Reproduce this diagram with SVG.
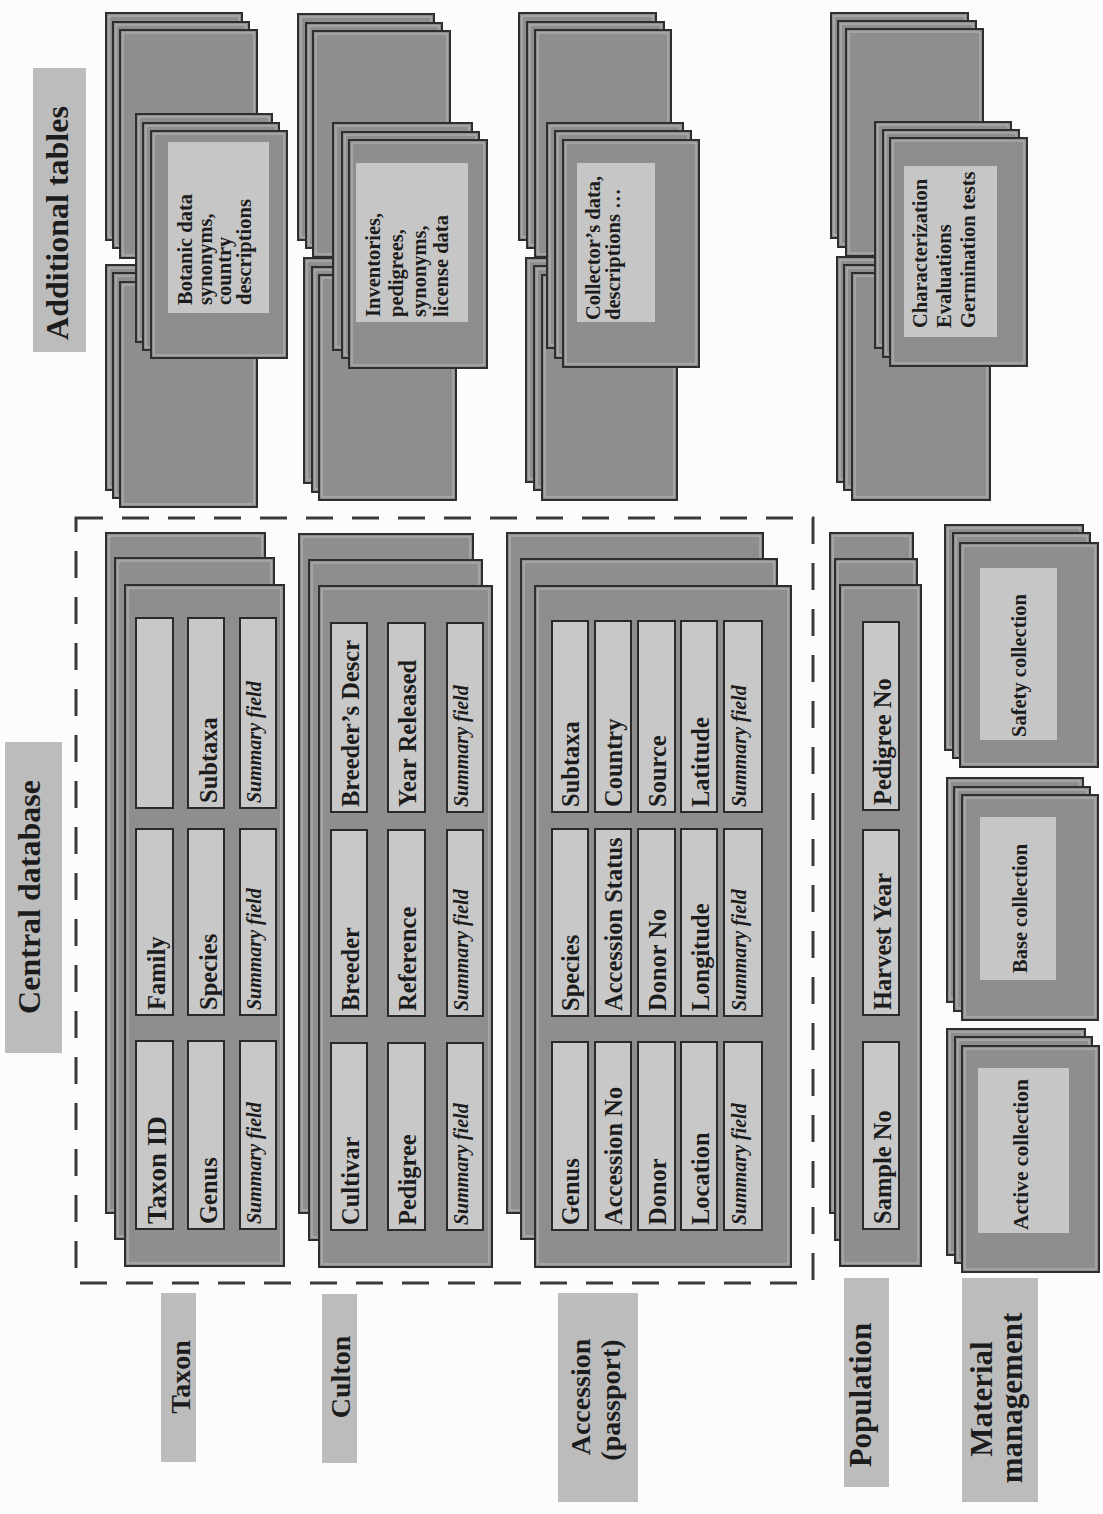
<svg xmlns="http://www.w3.org/2000/svg" width="1103" height="1514" viewBox="0 0 1103 1514">
<style>
.s{fill:#8e8e8e;stroke:#2e2e2e;stroke-width:2}
.si{fill:none;stroke:#bababa;stroke-width:1}
.f{fill:#c8c8c8;stroke:#2a2a2a;stroke-width:2}
.l{fill:#c6c6c6}
.lb{fill:#bcbcbc}
.t{font-family:"Liberation Serif","Times New Roman",serif;font-weight:bold;fill:#1c1c1c}
.fs{font-size:24.5px}
.it{font-style:italic;font-size:20px}
.at{font-size:20.5px}
.mc{font-size:20.5px}
.big{font-size:32px}
.cat{font-size:28px}
.cat2{font-size:31px}
.dash{fill:none;stroke:#3a3a3a;stroke-width:3;stroke-dasharray:27 19}
</style>
<rect width="1103" height="1514" fill="#fcfcfc"/>

<g id="label-additional-tables">
<rect class="lb" x="33" y="68" width="53" height="284"/>
<text class="t big" text-anchor="middle" transform="translate(68,223) rotate(-90)">Additional tables</text>
</g>

<g id="add-taxon">
<rect class="s" x="106" y="13" width="136" height="227"/><rect class="si" x="109" y="16" width="130" height="221"/>
<rect class="s" x="113" y="22" width="136" height="226"/><rect class="si" x="116" y="25" width="130" height="220"/>
<rect class="s" x="120" y="30" width="137" height="228"/><rect class="si" x="123" y="33" width="131" height="222"/>
<rect class="s" x="106" y="265" width="136" height="225"/><rect class="si" x="109" y="268" width="130" height="219"/>
<rect class="s" x="113" y="273" width="136" height="225"/><rect class="si" x="116" y="276" width="130" height="219"/>
<rect class="s" x="120" y="282" width="137" height="225"/><rect class="si" x="123" y="285" width="131" height="219"/>
<rect class="s" x="136" y="114" width="136" height="228"/><rect class="si" x="139" y="117" width="130" height="222"/>
<rect class="s" x="143" y="123" width="136" height="227"/><rect class="si" x="146" y="126" width="130" height="221"/>
<rect class="s" x="151" y="131" width="136" height="227"/><rect class="si" x="154" y="134" width="130" height="221"/>
<rect class="l" x="168" y="142" width="101" height="171"/>
<text class="t at" transform="translate(192,305) rotate(-90)">Botanic data</text>
<text class="t at" transform="translate(211.5,305) rotate(-90)">synonyms,</text>
<text class="t at" transform="translate(231,305) rotate(-90)">country</text>
<text class="t at" transform="translate(250.5,305) rotate(-90)">descriptions</text>
</g>

<g id="add-culton">
<rect class="s" x="298" y="14" width="136" height="226"/><rect class="si" x="301" y="17" width="130" height="220"/>
<rect class="s" x="306" y="23" width="136" height="225"/><rect class="si" x="309" y="26" width="130" height="219"/>
<rect class="s" x="313" y="31" width="137" height="226"/><rect class="si" x="316" y="34" width="131" height="220"/>
<rect class="s" x="304" y="258" width="136" height="225"/><rect class="si" x="307" y="261" width="130" height="219"/>
<rect class="s" x="312" y="267" width="136" height="225"/><rect class="si" x="315" y="270" width="130" height="219"/>
<rect class="s" x="319" y="275" width="137" height="225"/><rect class="si" x="322" y="278" width="131" height="219"/>
<rect class="s" x="333" y="123" width="139" height="227"/><rect class="si" x="336" y="126" width="133" height="221"/>
<rect class="s" x="342" y="132" width="137" height="226"/><rect class="si" x="345" y="135" width="131" height="220"/>
<rect class="s" x="349" y="140" width="138" height="228"/><rect class="si" x="352" y="143" width="132" height="222"/>
<rect class="l" x="356" y="163" width="112" height="159"/>
<text class="t at" transform="translate(380,317) rotate(-90)">Inventories,</text>
<text class="t at" transform="translate(403,317) rotate(-90)">pedigrees,</text>
<text class="t at" transform="translate(426,317) rotate(-90)">synonyms,</text>
<text class="t at" transform="translate(448,317) rotate(-90)">license data</text>
</g>

<g id="add-accession">
<rect class="s" x="519" y="13" width="137" height="227"/><rect class="si" x="522" y="16" width="131" height="221"/>
<rect class="s" x="527" y="22" width="137" height="226"/><rect class="si" x="530" y="25" width="131" height="220"/>
<rect class="s" x="535" y="30" width="136" height="227"/><rect class="si" x="538" y="33" width="130" height="221"/>
<rect class="s" x="526" y="258" width="136" height="224"/><rect class="si" x="529" y="261" width="130" height="218"/>
<rect class="s" x="534" y="266" width="136" height="224"/><rect class="si" x="537" y="269" width="130" height="218"/>
<rect class="s" x="542" y="275" width="135" height="225"/><rect class="si" x="545" y="278" width="129" height="219"/>
<rect class="s" x="547" y="123" width="136" height="225"/><rect class="si" x="550" y="126" width="130" height="219"/>
<rect class="s" x="555" y="131" width="136" height="227"/><rect class="si" x="558" y="134" width="130" height="221"/>
<rect class="s" x="563" y="140" width="136" height="227"/><rect class="si" x="566" y="143" width="130" height="221"/>
<rect class="l" x="577" y="163" width="78" height="159"/>
<text class="t at" transform="translate(600,320) rotate(-90)">Collector’s data,</text>
<text class="t at" transform="translate(620,320) rotate(-90)">descriptions …</text>
</g>

<g id="add-characterization">
<rect class="s" x="831" y="13" width="137" height="225"/><rect class="si" x="834" y="16" width="131" height="219"/>
<rect class="s" x="838" y="21" width="138" height="226"/><rect class="si" x="841" y="24" width="132" height="220"/>
<rect class="s" x="846" y="29" width="137" height="227"/><rect class="si" x="849" y="32" width="131" height="221"/>
<rect class="s" x="837" y="257" width="137" height="225"/><rect class="si" x="840" y="260" width="131" height="219"/>
<rect class="s" x="844" y="265" width="138" height="225"/><rect class="si" x="847" y="268" width="132" height="219"/>
<rect class="s" x="852" y="273" width="138" height="227"/><rect class="si" x="855" y="276" width="132" height="221"/>
<rect class="s" x="875" y="122" width="136" height="226"/><rect class="si" x="878" y="125" width="130" height="220"/>
<rect class="s" x="883" y="130" width="136" height="227"/><rect class="si" x="886" y="133" width="130" height="221"/>
<rect class="s" x="890" y="138" width="137" height="228"/><rect class="si" x="893" y="141" width="131" height="222"/>
<rect class="l" x="904" y="166" width="93" height="171"/>
<text class="t at" transform="translate(927,328) rotate(-90)">Characterization</text>
<text class="t at" transform="translate(951,328) rotate(-90)">Evaluations</text>
<text class="t at" transform="translate(975,328) rotate(-90)">Germination tests</text>
</g>

<g id="label-central-database">
<rect class="lb" x="5" y="742" width="57" height="311"/>
<text class="t big" text-anchor="middle" transform="translate(40,897) rotate(-90)">Central database</text>
</g>

<g id="central-database-boundary">
<path class="dash" d="M76,518 H813 V1283 H76 Z"/>
</g>

<g id="tbl-taxon">
<rect class="s" x="106" y="533" width="159" height="680"/><rect class="si" x="109" y="536" width="153" height="674"/>
<rect class="s" x="115" y="558" width="159" height="681"/><rect class="si" x="118" y="561" width="153" height="675"/>
<rect class="s" x="125" y="585" width="159" height="681"/><rect class="si" x="128" y="588" width="153" height="675"/>
<rect class="f" x="136" y="618" width="37" height="190"/>
<rect class="f" x="136" y="829" width="37" height="186"/>
<rect class="f" x="136" y="1041" width="37" height="188"/>
<rect class="f" x="188" y="618" width="36" height="190"/>
<rect class="f" x="188" y="829" width="36" height="186"/>
<rect class="f" x="188" y="1041" width="36" height="188"/>
<rect class="f" x="240" y="618" width="36" height="190"/>
<rect class="f" x="240" y="829" width="36" height="186"/>
<rect class="f" x="240" y="1041" width="36" height="188"/>
<text class="t" font-size="27" transform="translate(166,1224) rotate(-90)">Taxon ID</text>
<text class="t fs" transform="translate(165,1010) rotate(-90)">Family</text>
<text class="t fs" transform="translate(217,1224) rotate(-90)">Genus</text>
<text class="t fs" transform="translate(217,1010) rotate(-90)">Species</text>
<text class="t fs" transform="translate(217,803) rotate(-90)">Subtaxa</text>
<text class="t it" transform="translate(261,1224) rotate(-90)">Summary field</text>
<text class="t it" transform="translate(261,1010) rotate(-90)">Summary field</text>
<text class="t it" transform="translate(261,803) rotate(-90)">Summary field</text>
</g>

<g id="tbl-culton">
<rect class="s" x="299" y="534" width="174" height="679"/><rect class="si" x="302" y="537" width="168" height="673"/>
<rect class="s" x="309" y="560" width="173" height="680"/><rect class="si" x="312" y="563" width="167" height="674"/>
<rect class="s" x="319" y="586" width="173" height="681"/><rect class="si" x="322" y="589" width="167" height="675"/>
<rect class="f" x="331" y="623" width="36" height="189"/>
<rect class="f" x="331" y="830" width="36" height="186"/>
<rect class="f" x="331" y="1043" width="36" height="187"/>
<rect class="f" x="388" y="623" width="37" height="189"/>
<rect class="f" x="388" y="830" width="37" height="186"/>
<rect class="f" x="388" y="1043" width="37" height="187"/>
<rect class="f" x="447" y="623" width="36" height="189"/>
<rect class="f" x="447" y="830" width="36" height="186"/>
<rect class="f" x="447" y="1043" width="36" height="187"/>
<text class="t fs" transform="translate(359,1225) rotate(-90)">Cultivar</text>
<text class="t fs" transform="translate(359,1011) rotate(-90)">Breeder</text>
<text class="t fs" transform="translate(359,807) rotate(-90)">Breeder’s Descr</text>
<text class="t fs" transform="translate(416,1225) rotate(-90)">Pedigree</text>
<text class="t fs" transform="translate(416,1011) rotate(-90)">Reference</text>
<text class="t fs" transform="translate(416,807) rotate(-90)">Year Released</text>
<text class="t it" transform="translate(468,1225) rotate(-90)">Summary field</text>
<text class="t it" transform="translate(468,1011) rotate(-90)">Summary field</text>
<text class="t it" transform="translate(468,807) rotate(-90)">Summary field</text>
</g>

<g id="tbl-accession">
<rect class="s" x="507" y="533" width="256" height="680"/><rect class="si" x="510" y="536" width="250" height="674"/>
<rect class="s" x="521" y="559" width="256" height="680"/><rect class="si" x="524" y="562" width="250" height="674"/>
<rect class="s" x="535" y="586" width="256" height="681"/><rect class="si" x="538" y="589" width="250" height="675"/>
<rect class="f" x="552" y="621" width="36" height="191"/>
<rect class="f" x="552" y="829" width="36" height="187"/>
<rect class="f" x="552" y="1042" width="36" height="188"/>
<rect class="f" x="595" y="621" width="36" height="191"/>
<rect class="f" x="595" y="829" width="36" height="187"/>
<rect class="f" x="595" y="1042" width="36" height="188"/>
<rect class="f" x="638" y="621" width="37" height="191"/>
<rect class="f" x="638" y="829" width="37" height="187"/>
<rect class="f" x="638" y="1042" width="37" height="188"/>
<rect class="f" x="681" y="621" width="36" height="191"/>
<rect class="f" x="681" y="829" width="36" height="187"/>
<rect class="f" x="681" y="1042" width="36" height="188"/>
<rect class="f" x="724" y="621" width="38" height="191"/>
<rect class="f" x="724" y="829" width="38" height="187"/>
<rect class="f" x="724" y="1042" width="38" height="188"/>
<text class="t fs" transform="translate(579,1225) rotate(-90)">Genus</text>
<text class="t fs" transform="translate(579,1011) rotate(-90)">Species</text>
<text class="t fs" transform="translate(579,807) rotate(-90)">Subtaxa</text>
<text class="t fs" transform="translate(622,1225) rotate(-90)">Accession No</text>
<text class="t fs" transform="translate(622,1011) rotate(-90)">Accession Status</text>
<text class="t fs" transform="translate(622,807) rotate(-90)">Country</text>
<text class="t fs" transform="translate(666,1225) rotate(-90)">Donor</text>
<text class="t fs" transform="translate(666,1011) rotate(-90)">Donor No</text>
<text class="t fs" transform="translate(666,807) rotate(-90)">Source</text>
<text class="t fs" transform="translate(709,1225) rotate(-90)">Location</text>
<text class="t fs" transform="translate(709,1011) rotate(-90)">Longitude</text>
<text class="t fs" transform="translate(709,807) rotate(-90)">Latitude</text>
<text class="t it" transform="translate(746,1225) rotate(-90)">Summary field</text>
<text class="t it" transform="translate(746,1011) rotate(-90)">Summary field</text>
<text class="t it" transform="translate(746,807) rotate(-90)">Summary field</text>
</g>

<g id="tbl-population">
<rect class="s" x="830" y="533" width="83" height="680"/><rect class="si" x="833" y="536" width="77" height="674"/>
<rect class="s" x="835" y="559" width="82" height="681"/><rect class="si" x="838" y="562" width="76" height="675"/>
<rect class="s" x="840" y="585" width="81" height="681"/><rect class="si" x="843" y="588" width="75" height="675"/>
<rect class="f" x="863" y="622" width="36" height="188"/>
<rect class="f" x="863" y="830" width="36" height="185"/>
<rect class="f" x="863" y="1042" width="36" height="187"/>
<text class="t fs" transform="translate(891,1224) rotate(-90)">Sample No</text>
<text class="t fs" transform="translate(891,1010) rotate(-90)">Harvest Year</text>
<text class="t fs" transform="translate(891,805) rotate(-90)">Pedigree No</text>
</g>

<g id="mm-safety">
<rect class="s" x="945" y="525" width="138" height="225"/><rect class="si" x="948" y="528" width="132" height="219"/>
<rect class="s" x="953" y="533" width="137" height="225"/><rect class="si" x="956" y="536" width="131" height="219"/>
<rect class="s" x="960" y="543" width="138" height="224"/><rect class="si" x="963" y="546" width="132" height="218"/>
<rect class="l" x="980" y="568" width="77" height="172"/>
<text class="t mc" transform="translate(1026,737) rotate(-90)">Safety collection</text>
</g>

<g id="mm-base">
<rect class="s" x="947" y="778" width="136" height="224"/><rect class="si" x="950" y="781" width="130" height="218"/>
<rect class="s" x="954" y="787" width="136" height="224"/><rect class="si" x="957" y="790" width="130" height="218"/>
<rect class="s" x="962" y="795" width="136" height="225"/><rect class="si" x="965" y="798" width="130" height="219"/>
<rect class="l" x="980" y="817" width="76" height="163"/>
<text class="t mc" transform="translate(1027,973) rotate(-90)">Base collection</text>
</g>

<g id="mm-active">
<rect class="s" x="947" y="1029" width="138" height="226"/><rect class="si" x="950" y="1032" width="132" height="220"/>
<rect class="s" x="955" y="1037" width="137" height="226"/><rect class="si" x="958" y="1040" width="131" height="220"/>
<rect class="s" x="962" y="1046" width="137" height="226"/><rect class="si" x="965" y="1049" width="131" height="220"/>
<rect class="l" x="978" y="1068" width="91" height="165"/>
<text class="t" font-size="21.5" transform="translate(1028,1230) rotate(-90)">Active collection</text>
</g>

<g id="label-taxon">
<rect class="lb" x="161" y="1293" width="35" height="169"/>
<text class="t cat" text-anchor="middle" transform="translate(190,1377) rotate(-90)">Taxon</text>
</g>
<g id="label-culton">
<rect class="lb" x="322" y="1294" width="35" height="169"/>
<text class="t cat" text-anchor="middle" transform="translate(350,1377) rotate(-90)">Culton</text>
</g>
<g id="label-accession">
<rect class="lb" x="558" y="1293" width="80" height="209"/>
<text class="t cat" text-anchor="middle" transform="translate(590,1397) rotate(-90)">Accession</text>
<text class="t cat" text-anchor="middle" transform="translate(620,1400) rotate(-90)">(passport)</text>
</g>
<g id="label-population">
<rect class="lb" x="844" y="1278" width="45" height="209"/>
<text class="t cat2" text-anchor="middle" transform="translate(871,1395) rotate(-90)">Population</text>
</g>
<g id="label-material-management">
<rect class="lb" x="962" y="1278" width="76" height="224"/>
<text class="t cat2" text-anchor="middle" transform="translate(992,1399) rotate(-90)">Material</text>
<text class="t cat2" text-anchor="middle" transform="translate(1022,1398) rotate(-90)">management</text>
</g>

<g id="connectors"></g>
</svg>
